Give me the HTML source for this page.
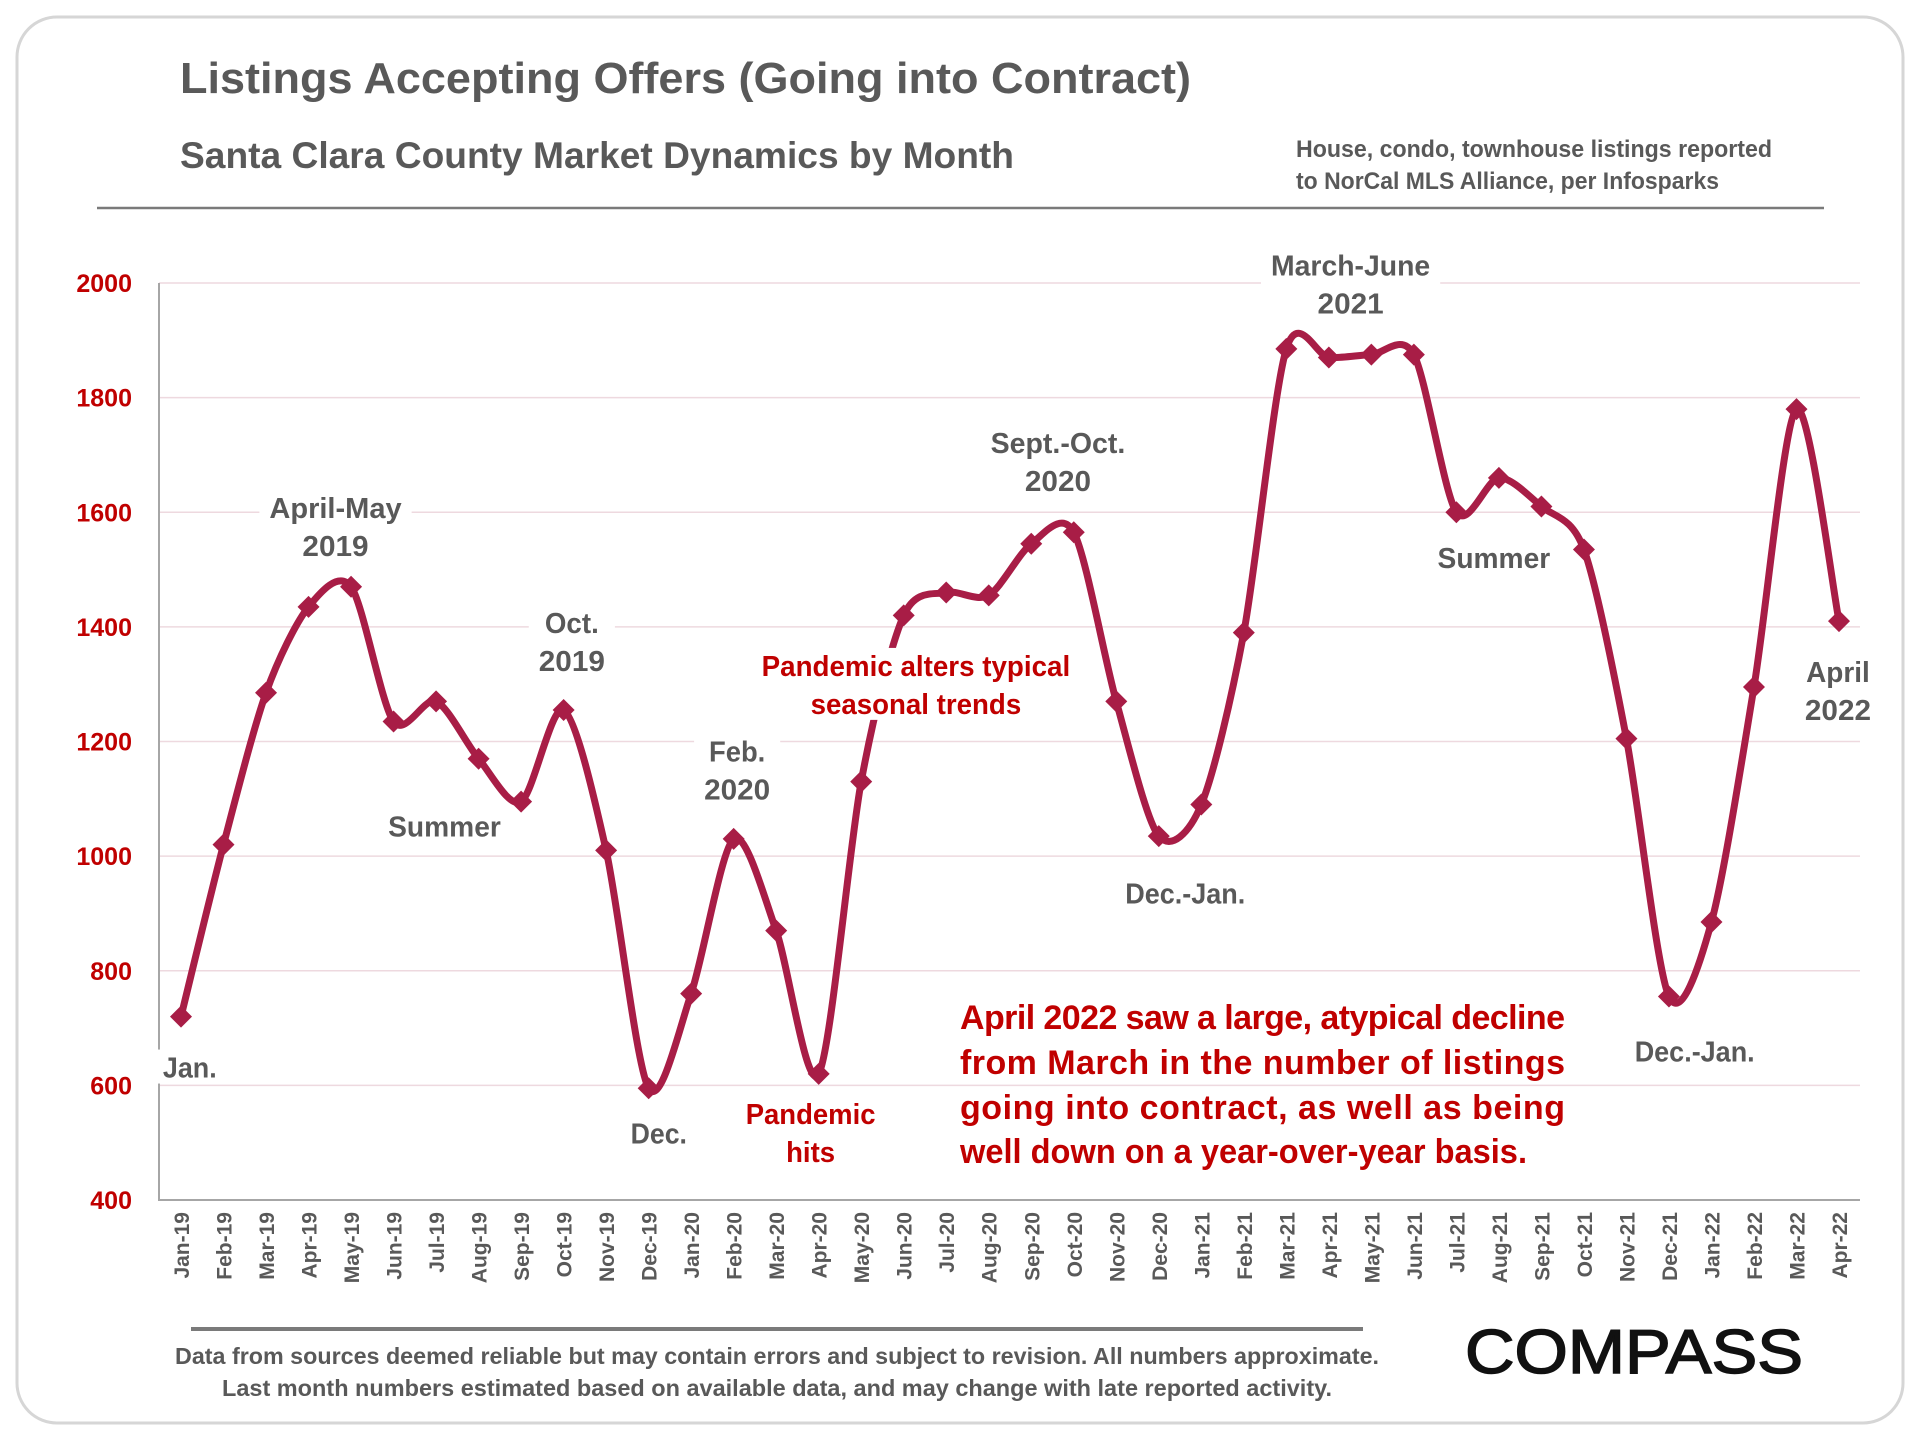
<!DOCTYPE html>
<html><head><meta charset="utf-8"><style>
html,body{margin:0;padding:0;background:#fff;}
svg{display:block;}
text{font-family:"Liberation Sans",sans-serif;font-weight:bold;}
</style></head><body>
<svg id="chart" width="1920" height="1440" viewBox="0 0 1920 1440">
<rect x="17" y="17" width="1886" height="1406" rx="40" fill="#fff" stroke="#d6d6d6" stroke-width="3"/>
<text x="180" y="93" font-size="44" fill="#595959" textLength="1011" lengthAdjust="spacingAndGlyphs">Listings Accepting Offers (Going into Contract)</text>
<text x="180" y="168" font-size="37" fill="#595959" textLength="834" lengthAdjust="spacingAndGlyphs">Santa Clara County Market Dynamics by Month</text>
<text x="1296" y="157" font-size="24" fill="#595959" textLength="476" lengthAdjust="spacingAndGlyphs">House, condo, townhouse listings reported</text>
<text x="1296" y="189" font-size="24" fill="#595959" textLength="423" lengthAdjust="spacingAndGlyphs">to NorCal MLS Alliance, per Infosparks</text>
<line x1="97" y1="208" x2="1824" y2="208" stroke="#7a7a7a" stroke-width="2.5"/>
<g id="grid"></g>
<g id="yaxis"></g>
<g id="xaxis"></g>
<g id="series"></g>
<g id="annos"></g>
<g font-size="34" fill="#c00000">
<text x="960" y="1029" textLength="605" lengthAdjust="spacing">April 2022 saw a large, atypical decline</text>
<text x="960" y="1074" textLength="605" lengthAdjust="spacing">from March in the number of listings</text>
<text x="960" y="1119" textLength="605" lengthAdjust="spacing">going into contract, as well as being</text>
<text x="960" y="1163" textLength="567" lengthAdjust="spacingAndGlyphs">well down on a year-over-year basis.</text>
</g>
<line x1="191" y1="1329" x2="1363" y2="1329" stroke="#7a7a7a" stroke-width="4"/>
<text x="175" y="1364" font-size="23" fill="#595959" textLength="1204" lengthAdjust="spacingAndGlyphs">Data from sources deemed reliable but may contain errors and subject to revision. All numbers approximate.</text>
<text x="222" y="1396" font-size="23" fill="#595959" textLength="1110" lengthAdjust="spacingAndGlyphs">Last month numbers estimated based on available data, and may change with late reported activity.</text>
<text x="1465" y="1373" font-size="62" fill="#111" style="font-weight:normal" stroke="#111" stroke-width="1.5" textLength="338" lengthAdjust="spacingAndGlyphs">COMPASS</text>
</svg>
<script>
const categories=["Jan-19","Feb-19","Mar-19","Apr-19","May-19","Jun-19","Jul-19","Aug-19","Sep-19","Oct-19","Nov-19","Dec-19","Jan-20","Feb-20","Mar-20","Apr-20","May-20","Jun-20","Jul-20","Aug-20","Sep-20","Oct-20","Nov-20","Dec-20","Jan-21","Feb-21","Mar-21","Apr-21","May-21","Jun-21","Jul-21","Aug-21","Sep-21","Oct-21","Nov-21","Dec-21","Jan-22","Feb-22","Mar-22","Apr-22"];
const listings=[720,1020,1285,1435,1470,1235,1270,1170,1095,1255,1010,595,760,1030,870,620,1130,1420,1460,1455,1545,1565,1270,1035,1090,1390,1885,1870,1875,1875,1600,1660,1610,1535,1205,755,885,1295,1780,1410];
const yTicks=[400,600,800,1000,1200,1400,1600,1800,2000];
const NS="http://www.w3.org/2000/svg";
const X0=181,X1=1839,Y0=1200,Y1=283,PL=159,PR=1860;
function xS(i){return X0+(X1-X0)*i/(categories.length-1);}
function yS(v){return Y0-(v-400)/(2000-400)*(Y0-Y1);}
function mk(tag,attrs,parent){const e=document.createElementNS(NS,tag);for(const k in attrs)e.setAttribute(k,attrs[k]);parent.appendChild(e);return e;}
const grid=document.getElementById('grid'),ya=document.getElementById('yaxis'),xa=document.getElementById('xaxis'),an=document.getElementById('annos'),se=document.getElementById('series');
yTicks.forEach(t=>{
  if(t>400){const g=mk('line',{x1:PL,x2:PR,y1:yS(t),y2:yS(t),stroke:'#eed9df','stroke-width':1.5},grid);
  
  }
  const l=mk('text',{x:132,y:yS(t)+9,'text-anchor':'end','font-size':25,fill:'#c00000'},ya);
  l.textContent=t;
  
  
});
const ax=mk('path',{d:`M${PL},${Y1} V${Y0} H${PR}`,fill:'none',stroke:'#a6a6a6','stroke-width':2},ya);


categories.forEach((c,i)=>{
  const x=xS(i)+8,y=1212;
  const t=mk('text',{x:x,y:y,'text-anchor':'end','font-size':21,fill:'#595959',transform:`rotate(-90 ${x} ${y})`},xa);
  t.textContent=c;
  
  
});
// smooth line
const pts=listings.map((v,i)=>[xS(i),yS(v)]);
let d=`M${pts[0][0]},${pts[0][1]}`;
const k=7;
for(let i=0;i<pts.length-1;i++){
  const p0=pts[i-1]||pts[i],p1=pts[i],p2=pts[i+1],p3=pts[i+2]||p2;
  const c1=[p1[0]+(p2[0]-p0[0])/k,p1[1]+(p2[1]-p0[1])/k],c2=[p2[0]-(p3[0]-p1[0])/k,p2[1]-(p3[1]-p1[1])/k];
  d+=` C${c1[0]},${c1[1]} ${c2[0]},${c2[1]} ${p2[0]},${p2[1]}`;
}
const line=mk('path',{d:d,fill:'none',stroke:'#a81d46','stroke-width':7,'stroke-linejoin':'round'},se);


pts.forEach((p,i)=>{
  const r=11;
  const m=mk('path',{d:`M${p[0]},${p[1]-r} L${p[0]+r},${p[1]} L${p[0]},${p[1]+r} L${p[0]-r},${p[1]} Z`,fill:'#a81d46'},se);
  
  
});
// annotations: [lines, cx(1568 scale), baseline1(1568 scale), width(1568 scale), color]
const s=1920/1568;
const notes=[
 [["April-May","2019"],274,423,[108,54],'#595959'],
 [["Oct.","2019"],467,517,[44,54],'#595959'],
 [["Summer"],363,683,[92],'#595959'],
 [["Jan."],155,880,[44],'#595959'],
 [["Dec."],538,934,[46],'#595959'],
 [["Feb.","2020"],602,622,[46,54],'#595959'],
 [["Pandemic","hits"],662,918,[106,40],'#c00000'],
 [["Pandemic alters typical","seasonal trends"],748,552,[252,172],'#c00000'],
 [["Sept.-Oct.","2020"],864,370,[110,54],'#595959'],
 [["Dec.-Jan."],968,738,[98],'#595959'],
 [["March-June","2021"],1103,225,[130,54],'#595959'],
 [["Summer"],1220,464,[92],'#595959'],
 [["April","2022"],1501,557,[52,54],'#595959'],
 [["Dec.-Jan."],1384,867,[98],'#595959']];
notes.forEach((n,k)=>{
  const g=mk('g',{},an);
  
  
  const lh=31*s,maxw=Math.max(...n[3])*s;
  const bg=mk('rect',{x:n[1]*s-maxw/2-10,y:n[2]*s-28,width:maxw+20,height:lh*(n[0].length-1)+34,fill:'#fff'},g);
  
  
  n[0].forEach((ln,j)=>{
    const t=mk('text',{x:n[1]*s,y:n[2]*s+j*lh,'text-anchor':'middle','font-size':29,fill:n[4],textLength:n[3][j]*s,lengthAdjust:'spacingAndGlyphs'},g);
    t.textContent=ln;
    
    
  });
});
</script>
</body></html>
